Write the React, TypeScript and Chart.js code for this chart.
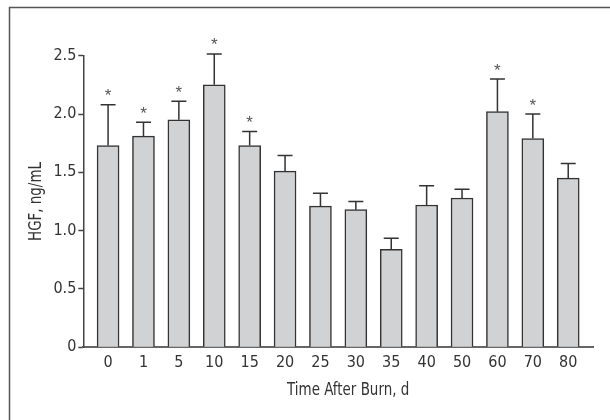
import React, { useEffect, useRef } from "react";
import { Chart, registerables } from "chart.js";

Chart.register(...registerables);

const labels = ["0", "1", "5", "10", "15", "20", "25", "30", "35", "40", "50", "60", "70", "80"];
const means = [1.73, 1.81, 1.95, 2.25, 1.73, 1.51, 1.21, 1.18, 0.84, 1.22, 1.28, 2.02, 1.79, 1.45];
const errors = [0.35, 0.12, 0.16, 0.265, 0.12, 0.135, 0.11, 0.07, 0.095, 0.165, 0.075, 0.28, 0.21, 0.125];
const significant = [true, true, true, true, true, false, false, false, false, false, false, true, true, false];
const yTickValues = [0, 0.5, 1.0, 1.5, 2.0, 2.5];
const xTitle = "Time After Burn, d";
const yTitle = "HGF, ng/mL";

const FONT = "'DejaVu Sans Condensed', 'Liberation Sans', sans-serif";

export default function App() {
  const canvasRef = useRef<HTMLCanvasElement | null>(null);

  useEffect(() => {
    const canvas = canvasRef.current;
    if (!canvas) return;

    const extras = {
      id: "extras",
      beforeDraw(chart: any) {
        const ctx = chart.ctx;
        ctx.save();
        ctx.fillStyle = "#ffffff";
        ctx.fillRect(0, 0, chart.width, chart.height);
        ctx.strokeStyle = "#555555";
        ctx.lineWidth = 1.5;
        ctx.beginPath();
        ctx.moveTo(9.5, chart.height);
        ctx.lineTo(9.5, 7.5);
        ctx.lineTo(chart.width, 7.5);
        ctx.stroke();
        ctx.restore();
      },
      afterDatasetsDraw(chart: any) {
        const ctx = chart.ctx;
        const xs = chart.scales.x;
        const ys = chart.scales.y;
        ctx.save();
        ctx.strokeStyle = "#333333";
        ctx.lineWidth = 1.5;
        ctx.font = "17px 'Liberation Sans', sans-serif";
        ctx.textAlign = "center";
        ctx.textBaseline = "alphabetic";
        const m = ctx.measureText("*");
        const inkShift = (m.actualBoundingBoxDescent - m.actualBoundingBoxAscent) / 2;
        for (let i = 0; i < means.length; i++) {
          const x = xs.getPixelForValue(i);
          const yBar = ys.getPixelForValue(means[i]);
          const yTop = ys.getPixelForValue(means[i] + errors[i]);
          ctx.beginPath();
          ctx.moveTo(x, yBar);
          ctx.lineTo(x, yTop);
          ctx.moveTo(x - 7.5, yTop);
          ctx.lineTo(x + 7.5, yTop);
          ctx.stroke();
          if (significant[i]) {
            ctx.fillStyle = "#555555";
            ctx.fillText("*", x, yTop - 12.5 - inkShift);
          }
        }
        ctx.restore();

        // axis titles (condensed look)
        ctx.save();
        ctx.fillStyle = "#333333";
        ctx.font = "18px " + FONT;
        ctx.textAlign = "center";
        ctx.textBaseline = "middle";
        ctx.translate((xs.left + xs.right) / 2 + 10, 390);
        ctx.scale(0.83, 1);
        ctx.fillText(xTitle, 0, 0);
        ctx.restore();

        ctx.save();
        ctx.fillStyle = "#333333";
        ctx.font = "18px " + FONT;
        ctx.textAlign = "center";
        ctx.textBaseline = "middle";
        ctx.translate(36, (ys.top + ys.bottom) / 2);
        ctx.rotate(-Math.PI / 2);
        ctx.scale(0.83, 1);
        ctx.fillText(yTitle, 0, 0);
        ctx.restore();
      },
    };

    const chart = new Chart(canvas, {
      type: "bar",
      data: {
        datasets: [
          {
            data: means.map((v, i) => ({ x: i, y: v })),
            backgroundColor: "#d1d2d4",
            borderColor: "#333333",
            borderWidth: 1.5,
            barThickness: 22,
          },
        ],
      },
      options: {
        responsive: false,
        animation: false,
        events: [],
        layout: { padding: { top: 55.7, right: 17, left: 0, bottom: 0 } },
        plugins: {
          legend: { display: false },
          tooltip: { enabled: false },
        },
        scales: {
          x: {
            type: "linear",
            offset: false,
            min: -0.7,
            max: 13.7,
            grid: { display: false, drawTicks: false, tickLength: 0 },
            border: { display: true, color: "#666666", width: 2 },
            afterBuildTicks: (s: any) => {
              s.ticks = labels.map((_, i) => ({ value: i }));
            },
            afterFit: (s: any) => {
              s.height = 420 - 347.3;
            },
            ticks: {
              autoSkip: false,
              maxRotation: 0,
              padding: 6,
              color: "#333333",
              font: { family: FONT, size: 16 },
              callback: (v: any) => labels[v] ?? "",
            },
          },
          y: {
            min: 0,
            max: 2.5,
            afterBuildTicks: (s: any) => {
              s.ticks = yTickValues.map((v) => ({ value: v }));
            },
            afterFit: (s: any) => {
              s.width = 83.3;
            },
            grid: {
              display: true,
              drawOnChartArea: false,
              drawTicks: true,
              tickLength: 5,
              tickWidth: 1.5,
              tickColor: "#444444",
            },
            border: { display: true, color: "#444444", width: 1.5 },
            ticks: {
              padding: 2,
              color: "#333333",
              font: { family: FONT, size: 16 },
              callback: (v: any) => (v === 0 ? "0" : Number(v).toFixed(1)),
            },
          },
        },
      },
      plugins: [extras],
    });

    return () => chart.destroy();
  }, []);

  return (
    <div style={{ position: "absolute", left: 0, top: 0, width: 610, height: 420 }}>
      <canvas ref={canvasRef} width={610} height={420} style={{ display: "block" }} />
    </div>
  );
}
